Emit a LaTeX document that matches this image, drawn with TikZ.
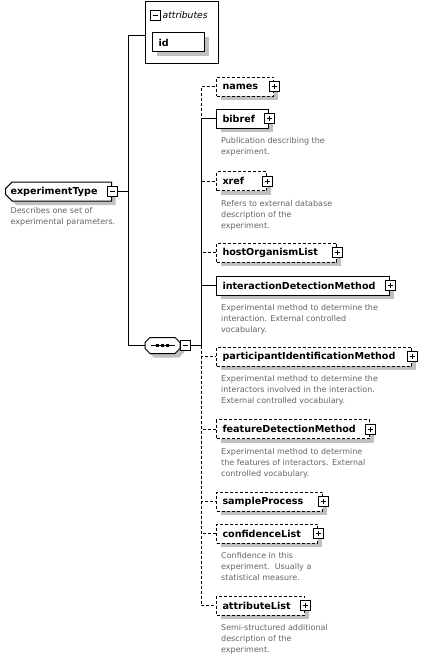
\documentclass[tikz,border=0pt]{standalone}
\usepackage{fontspec}
\setmainfont{DejaVu Sans}
\usetikzlibrary{shapes.misc,shadows,positioning}

\definecolor{shadowgrey}{RGB}{192,192,192}
\definecolor{descgrey}{RGB}{100,100,100}

\tikzset{
  boxshadow/.style={drop shadow={shadow xshift=4pt,shadow yshift=-4pt,fill=shadowgrey,opacity=1}},
  elem/.style={draw,fill=white,line width=1pt,anchor=west,minimum height=19pt,
    inner xsep=6pt,inner ysep=0pt,align=left,text width=#1,
    font=\fontsize{9.6}{11}\selectfont\bfseries,boxshadow},
  optelem/.style={elem=#1,dash pattern=on 3pt off 2pt},
  expbox/.style={draw,fill=white,line width=1pt,minimum size=10pt,inner sep=0pt},
  plusbox/.style={expbox,path picture={
    \draw[line width=1pt] ([xshift=2.5pt]path picture bounding box.west) -- ([xshift=-2.5pt]path picture bounding box.east)
      ([yshift=-2.5pt]path picture bounding box.north) -- ([yshift=2.5pt]path picture bounding box.south);}},
  minusbox/.style={expbox,path picture={
    \draw[line width=1pt] ([xshift=2.5pt]path picture bounding box.west) -- ([xshift=-2.5pt]path picture bounding box.east);}},
  desc/.style={inner sep=0pt,align=left,text=descgrey,font=\fontsize{8}{11}\selectfont},
  reqline/.style={line width=1pt},
  optline/.style={line width=1pt,dash pattern=on 3pt off 2pt},
}

\begin{document}
\begin{tikzpicture}[x=1pt,y=-1pt]
  \useasboundingbox (0,0) rectangle (426,661);
  % root element
  \node[draw,fill=white,line width=1pt,chamfered rectangle,chamfered rectangle corners={north west,south west},
        chamfered rectangle xsep=3pt,minimum height=19pt,inner xsep=2pt,inner ysep=0pt,anchor=west,
        text width=96pt,align=left,font=\fontsize{9.6}{11}\selectfont\bfseries,boxshadow]
        (root) at (5,191.5) {experimentType};
  \node[minusbox] (root-minus) at (root.east) {};
  \node[desc,below right=9pt and 2pt of root.south west] (root-doc) {Describes one set of\\experimental parameters.};
  \coordinate (trunk) at (128,191.5);

  % attributes
  \node[draw,line width=1pt,minimum width=73pt,minimum height=62pt,anchor=north west] (attrs) at (145,1) {};
  \node[minusbox] (attrs-minus) at (155,15.5) {};
  \node[right=2pt of attrs-minus,inner sep=0pt,font=\fontsize{9.2}{11}\selectfont\itshape] (attrs-label) {attributes};
  \node[elem=40pt] (id) at (152,42.5) {id};

  % sequence
  \fill[shadowgrey] (154,341.5) -- (179,341.5) -- (184,346.5) -- (184,352.5) -- (179,357.5)
    -- (154,357.5) -- (149,352.5) -- (149,346.5) -- cycle;
  \draw[line width=1pt,fill=white] (150,337.5) -- (175,337.5) -- (180,342.5) -- (180,348.5) -- (175,353.5)
    -- (150,353.5) -- (145,348.5) -- (145,342.5) -- cycle;
  \node[minimum width=35pt,minimum height=16pt,inner sep=0pt] (seq) at (162.5,345.5) {};
  \draw[line width=1pt] ([xshift=-12pt]seq.center) -- ([xshift=12pt]seq.center);
  \foreach \dx in {-5,0,5}
    \fill ([xshift=\dx pt-1.5pt,yshift=-1.5pt]seq.center) rectangle +(3pt,3pt);
  \node[minusbox] (seq-minus) at ([xshift=5pt]seq.east) {};
  \coordinate (fork) at (201,345.5);

  % children
  \node[optelem=45pt] (names) at (216,86.5) {names};
  \node[elem=40pt] (bibref) at (216,118.5) {bibref};
  \node[optelem=38pt] (xref) at (216,181) {xref};
  \node[optelem=108pt] (host) at (216,252.5) {hostOrganismList};
  \node[elem=161pt] (interaction) at (216,285.5) {interactionDetectionMethod};
  \node[optelem=183pt] (participant) at (216,356.5) {participantIdentificationMethod};
  \node[optelem=141pt] (feature) at (216,429) {featureDetectionMethod};
  \node[optelem=94pt] (sample) at (216,501.5) {sampleProcess};
  \node[optelem=89pt] (confidence) at (216,533.5) {confidenceList};
  \node[optelem=76pt] (attlist) at (216,605.5) {attributeList};

  \foreach \n in {names,bibref,xref,host,interaction,participant,feature,sample,confidence,attlist}
    \node[plusbox] (\n-plus) at (\n.east) {};

  \node[desc,below right=9pt and 5pt of bibref.south west] (bibref-doc) {Publication describing the\\experiment.};
  \node[desc,below right=9pt and 5pt of xref.south west] (xref-doc) {Refers to external database\\description of the\\experiment.};
  \node[desc,below right=9pt and 5pt of interaction.south west] (interaction-doc) {Experimental method to determine the\\interaction. External controlled\\vocabulary.};
  \node[desc,below right=9pt and 5pt of participant.south west] (participant-doc) {Experimental method to determine the\\interactors involved in the interaction.\\External controlled vocabulary.};
  \node[desc,below right=9pt and 5pt of feature.south west] (feature-doc) {Experimental method to determine\\the features of interactors. External\\controlled vocabulary.};
  \node[desc,below right=9pt and 5pt of confidence.south west] (confidence-doc) {Confidence in this\\experiment.\ \ Usually a\\statistical measure.};
  \node[desc,below right=9pt and 5pt of attlist.south west] (attlist-doc) {Semi-structured additional\\description of the\\experiment.};

  % connectors
  \draw[reqline] (root-minus.east) -- (trunk);
  \draw[reqline] (trunk) |- ([yshift=-3pt]attrs.west);
  \draw[reqline] (trunk) |- (seq.west);
  \draw[reqline] (seq-minus.east) -- (fork);
  \foreach \n in {names,xref,host,participant,feature,sample,confidence,attlist}
    \draw[optline] (fork) |- (\n.west);
  \foreach \n in {bibref,interaction}
    \draw[reqline] (fork) |- (\n.west);
\end{tikzpicture}
\end{document}
